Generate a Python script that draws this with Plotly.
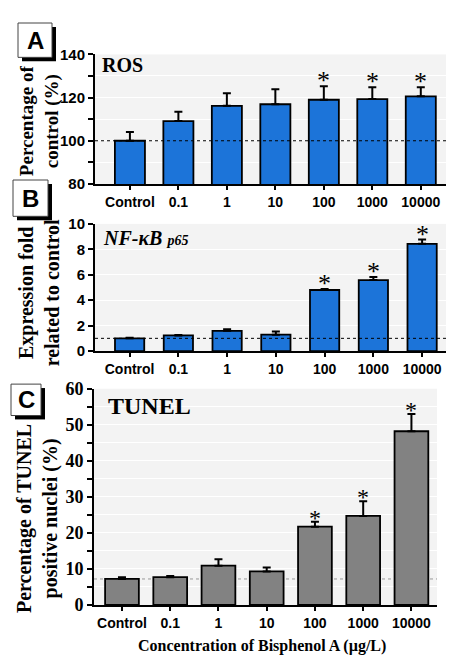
import plotly.graph_objects as go

categories = ["Control", "0.1", "1", "10", "100", "1000", "10000"]

ros_values = [100.0, 109.1, 116.2, 116.9, 119.0, 119.3, 120.6]
ros_err_top = [104.0, 113.4, 122.0, 123.8, 125.2, 124.8, 124.8]
ros_sig = [False, False, False, False, True, True, True]

nfkb_values = [1.0, 1.23, 1.59, 1.29, 4.8, 5.58, 8.43]
nfkb_err_top = [1.04, 1.27, 1.72, 1.54, 4.88, 5.83, 8.77]
nfkb_sig = [False, False, False, False, True, True, True]

tunel_values = [7.2, 7.7, 10.9, 9.3, 21.7, 24.7, 48.2]
tunel_err_top = [7.7, 8.05, 12.7, 10.4, 23.1, 28.8, 53.0]
tunel_sig = [False, False, False, False, True, True, True]

ros_ref = 100
nfkb_ref = 1
tunel_ref = 7.2

# page layout: 8px body margin; the captured page is slightly squeezed vertically
OFF = 8
SY = 0.988
W, H = 454 - 2 * OFF, 672 - 2 * OFF
def px(x):
    return min(1.0, max(0.0, (x - OFF) / W))
def py(y):
    return min(1.0, max(0.0, 1 - (y / SY - OFF) / H))

BLUE = "#1c74d9"
GREY = "#828282"
BG = "#f3f3f3"

fig = go.Figure()

panels = [
    dict(vals=ros_values, top=ros_err_top, sig=ros_sig, color=BLUE, ax="", width=0.62, star=26),
    dict(vals=nfkb_values, top=nfkb_err_top, sig=nfkb_sig, color=BLUE, ax="2", width=0.6, star=26),
    dict(vals=tunel_values, top=tunel_err_top, sig=tunel_sig, color=GREY, ax="3", width=0.7, star=24),
]

idx = list(range(len(categories)))

for p in panels:
    fig.add_trace(go.Bar(
        x=idx, y=p["vals"], width=p["width"],
        marker=dict(color=p["color"], line=dict(color="black", width=1.8)),
        error_y=dict(type="data", symmetric=False,
                     array=[t - v for t, v in zip(p["top"], p["vals"])],
                     arrayminus=[0] * len(p["vals"]),
                     color="black", thickness=2, width=4),
        xaxis="x" + p["ax"], yaxis="y" + p["ax"], showlegend=False,
    ))
    for i, t, s in zip(idx, p["top"], p["sig"]):
        if s:
            fig.add_annotation(x=i, y=t, xref="x" + p["ax"], yref="y" + p["ax"],
                               text="*", showarrow=False, yanchor="bottom", yshift=-11,
                               font=dict(family="Liberation Serif", size=p["star"], color="black"))

xtick_font = dict(family="Liberation Sans, Arial", size=14, color="black", weight="bold")

common_x = dict(showline=True, linecolor="black", linewidth=2,
                ticks="outside", ticklen=4, tickwidth=1.5, tickcolor="black",
                showgrid=False, zeroline=False, tickfont=xtick_font,
                tickmode="array", tickvals=idx, ticktext=categories)
common_y = dict(showline=True, linecolor="black", linewidth=2, ticks="outside",
                ticklen=5, tickwidth=1.5, tickcolor="black", showgrid=True,
                gridcolor="white", gridwidth=1.2, zeroline=False)

sans_tick = dict(family="Liberation Sans, Arial", size=15, color="black", weight="bold")

fig.update_layout(
    width=W, height=H, margin=dict(l=0, r=0, t=0, b=0),
    paper_bgcolor="white", plot_bgcolor=BG,
    xaxis=dict(common_x, domain=[px(95), 1], range=[-0.72, 6.52], anchor="y"),
    yaxis=dict(common_y, domain=[py(177), py(45)], range=[80, 140], anchor="x",
               tickvals=[80, 90, 100, 110, 120, 130, 140],
               ticktext=["80", "", "100", "", "120", "", "140"],
               tickfont=sans_tick),
    xaxis2=dict(common_x, domain=[px(95), 1], range=[-0.71, 6.49], anchor="y2"),
    yaxis2=dict(common_y, domain=[py(347.3), py(217.7)], range=[0, 10], anchor="x2",
                dtick=2, tickfont=sans_tick),
    xaxis3=dict(common_x, domain=[px(94), px(437)], range=[-0.58, 6.53], anchor="y3"),
    yaxis3=dict(common_y, domain=[py(606), py(385.7)], range=[0, 60], anchor="x3",
                tickvals=[0, 5, 10, 15, 20, 25, 30, 35, 40, 45, 50, 55, 60],
                ticktext=["0", "", "10", "", "20", "", "30", "", "40", "", "50", "", "60"],
                tickfont=dict(family="Liberation Serif", size=18, color="black", weight="bold")),
)

# reference lines
fig.add_shape(type="line", xref="x domain", yref="y", x0=0, x1=1, y0=ros_ref, y1=ros_ref,
              line=dict(color="black", width=1, dash="dot"))
fig.add_shape(type="line", xref="x2 domain", yref="y2", x0=0, x1=1, y0=nfkb_ref, y1=nfkb_ref,
              line=dict(color="black", width=1, dash="dot"))
fig.add_shape(type="line", xref="x3 domain", yref="y3", x0=0, x1=1, y0=tunel_ref, y1=tunel_ref,
              line=dict(color="#999999", width=1, dash="dot"), layer="below")

serif_b = "Liberation Serif"

# panel titles
fig.add_annotation(x=px(100), y=py(56), xref="paper", yref="paper", text="<b>ROS</b>",
                   showarrow=False, xanchor="left", yanchor="middle",
                   font=dict(family=serif_b, size=20, color="black"))
fig.add_annotation(x=px(101), y=py(232), xref="paper", yref="paper",
                   text="<b><i>NF-κB <span style='font-size:14px'>p65</span></i></b>",
                   showarrow=False, xanchor="left", yanchor="middle",
                   font=dict(family=serif_b, size=20, color="black"))
fig.add_annotation(x=px(106), y=py(403), xref="paper", yref="paper", text="<b>TUNEL</b>",
                   showarrow=False, xanchor="left", yanchor="middle",
                   font=dict(family=serif_b, size=24, color="black"))

# y titles
fig.add_annotation(x=px(39), y=py(113), xref="paper", yref="paper",
                   text="<b>Percentage of<br>control (%)</b>", textangle=-90,
                   showarrow=False, xanchor="center", yanchor="middle",
                   font=dict(family=serif_b, size=19, color="black"))
fig.add_annotation(x=px(38.5), y=py(288), xref="paper", yref="paper",
                   text="<b>Expression fold<br>related to control</b>", textangle=-90,
                   showarrow=False, xanchor="center", yanchor="middle",
                   font=dict(family=serif_b, size=20, color="black"))
fig.add_annotation(x=px(37.5), y=py(518), xref="paper", yref="paper",
                   text="<b>Percentage of TUNEL<br>positive nuclei (%)</b>", textangle=-90,
                   showarrow=False, xanchor="center", yanchor="middle",
                   font=dict(family=serif_b, size=20, color="black"))

# x title (kept inside the figure's bottom edge)
fig.add_annotation(x=px(262), y=0, xref="paper", yref="paper",
                   text="<b>Concentration of Bisphenol A (µg/L)</b>",
                   showarrow=False, xanchor="center", yanchor="bottom", yshift=-3,
                   font=dict(family=serif_b, size=16, color="black"))

# label boxes
boxes = [("A", 18, 13, 52, 48), ("B", 13, 173, 48, 210), ("C", 11, 381, 41, 413)]
for lab, x0, y0, x1, y1 in boxes:
    fig.add_shape(type="rect", xref="paper", yref="paper",
                  x0=px(x0 + 4), x1=px(x1 + 4), y0=py(y0 + 4), y1=py(y1 + 4),
                  fillcolor="black", line=dict(width=0))
    fig.add_shape(type="rect", xref="paper", yref="paper",
                  x0=px(x0), x1=px(x1), y0=py(y0), y1=py(y1),
                  fillcolor="white", line=dict(color="#444444", width=1))
    fig.add_annotation(x=px((x0 + x1) / 2), y=py((y0 + y1) / 2), xref="paper", yref="paper",
                       text="<b>" + lab + "</b>", showarrow=False,
                       xanchor="center", yanchor="middle",
                       font=dict(family="Liberation Sans", size=24, color="black", weight="bold"))

fig.write_html("out.html")
